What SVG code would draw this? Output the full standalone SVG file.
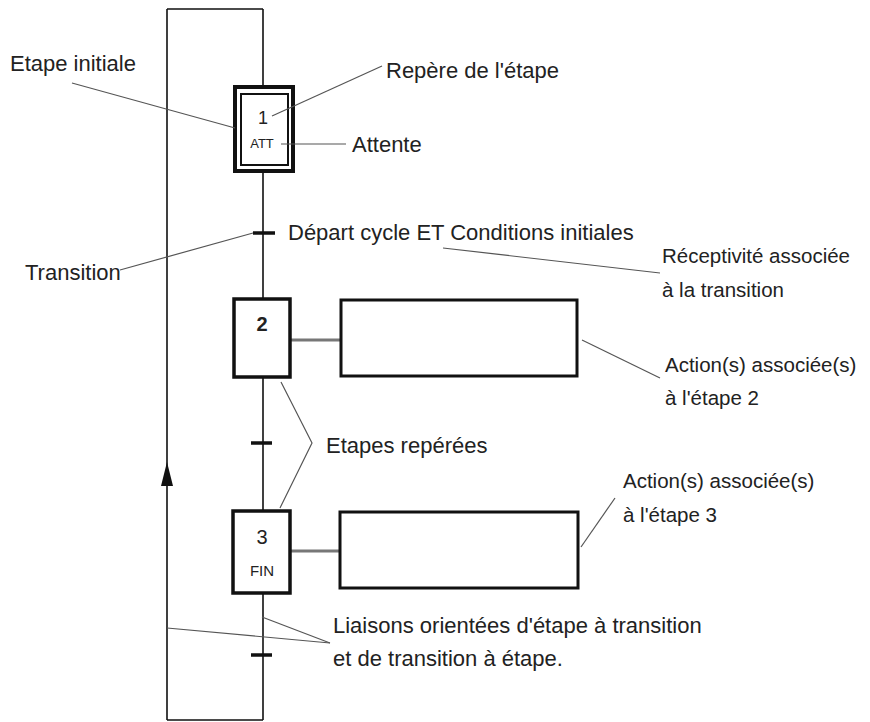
<svg xmlns="http://www.w3.org/2000/svg" width="870" height="722" viewBox="0 0 870 722">
<style>
.t{font-family:"Liberation Sans",Arial,sans-serif;font-size:22px;fill:#222}
.r{font-size:20.5px}
.s{font-family:"Liberation Sans",Arial,sans-serif;fill:#222;text-anchor:middle}
.ln{stroke:#111;stroke-width:1.6;fill:none}
.ld{stroke:#555;stroke-width:1.2;fill:none}
.box{fill:#fff;stroke:#111;stroke-width:3.5}
.act{fill:#fff;stroke:#111;stroke-width:3}
.tr{stroke:#111;stroke-width:3.5}
.cn{stroke:#777;stroke-width:3}
</style>
<rect width="870" height="722" fill="#fff"/>
<g id="connectors">
<path class="ln" d="M263 9 V720 M167 9 V720 M167 9 H263 M167 720 H263"/>
<polygon points="167,462 161,486 173,486" fill="#111"/>
<line class="tr" x1="253" y1="233" x2="275" y2="233"/>
<line class="tr" x1="251" y1="443" x2="272" y2="443"/>
<line class="tr" x1="251" y1="655" x2="272" y2="655"/>
<line class="cn" x1="291" y1="340" x2="341" y2="340"/>
<line class="cn" x1="290" y1="551" x2="340" y2="551"/>
</g>
<g id="step1">
<rect x="235" y="87" width="58" height="84" fill="#fff" stroke="#111" stroke-width="4"/>
<rect x="241" y="94" width="47" height="71" fill="#fff" stroke="#111" stroke-width="2"/>
<text class="s" x="263" y="124" font-size="18">1</text>
<text class="s" x="262" y="148" font-size="13">ATT</text>
</g>
<g id="step2">
<rect class="box" x="234" y="299" width="56" height="78"/>
<text class="s" x="262" y="331" font-size="20" font-weight="bold">2</text>
</g>
<g id="action2"><rect class="act" x="341" y="300" width="236" height="76"/></g>
<g id="step3">
<rect class="box" x="233" y="511" width="57" height="82"/>
<text class="s" x="262" y="544" font-size="20">3</text>
<text class="s" x="262" y="576" font-size="15">FIN</text>
</g>
<g id="action3"><rect class="act" x="340" y="512" width="238" height="76"/></g>
<g id="leaders">
<line class="ld" x1="72" y1="83" x2="235" y2="128"/>
<line class="ld" x1="272" y1="116" x2="382" y2="66"/>
<line class="ld" x1="281" y1="144" x2="346" y2="144"/>
<line class="ld" x1="120" y1="270" x2="253" y2="233"/>
<line class="ld" x1="443" y1="248" x2="660" y2="273"/>
<line class="ld" x1="582" y1="340" x2="660" y2="378"/>
<polyline class="ld" points="281,382 312,443 280,508"/>
<line class="ld" x1="581" y1="547" x2="615" y2="498"/>
<line class="ld" x1="262" y1="617" x2="330" y2="643"/>
<line class="ld" x1="167" y1="628" x2="330" y2="643"/>
</g>
<g id="labels">
<text class="t" x="10" y="71">Etape initiale</text>
<text class="t" x="386" y="78">Repère de l'étape</text>
<text class="t" x="352" y="152">Attente</text>
<text class="t" x="25" y="280">Transition</text>
<text class="t" x="288" y="240">Départ cycle ET Conditions initiales</text>
<text class="t r" x="662" y="263">Réceptivité associée</text>
<text class="t r" x="662" y="297">à la transition</text>
<text class="t r" x="665" y="372">Action(s) associée(s)</text>
<text class="t r" x="665" y="405">à l'étape 2</text>
<text class="t" x="326" y="453">Etapes repérées</text>
<text class="t r" x="623" y="488">Action(s) associée(s)</text>
<text class="t r" x="623" y="522">à l'étape 3</text>
<text class="t" x="333" y="633">Liaisons orientées d'étape à transition</text>
<text class="t" x="333" y="666">et de transition à étape.</text>
</g>
</svg>
